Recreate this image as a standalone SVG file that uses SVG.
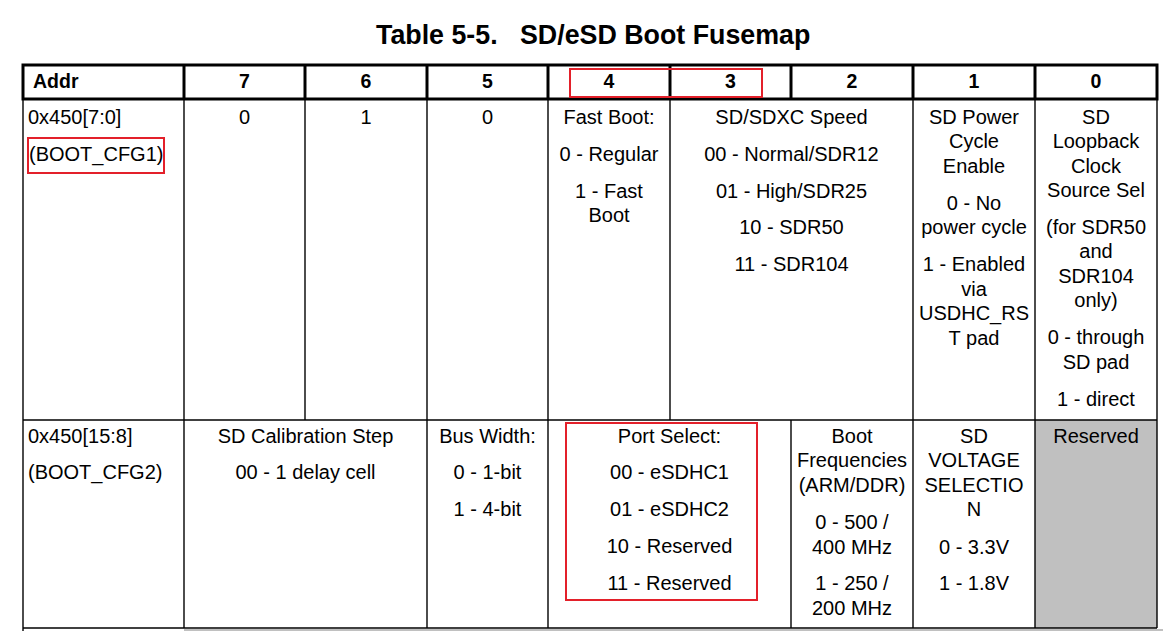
<svg xmlns="http://www.w3.org/2000/svg" width="1163" height="631" viewBox="0 0 1163 631">
<style>
.t{font-family:"Liberation Sans",Arial,sans-serif;font-size:20px;fill:#000}
.c{text-anchor:middle}
.h{font-family:"Liberation Sans",Arial,sans-serif;font-size:19.5px;font-weight:bold;fill:#000}
.title{font-family:"Liberation Sans",Arial,sans-serif;font-size:26.8px;font-weight:bold;fill:#000}
.thin{stroke:#000;stroke-width:1.4;fill:none}
.thick{stroke:#000;stroke-width:3;fill:none}
.red{stroke:#e3202a;stroke-width:2;fill:none}
</style>
<rect width="1163" height="631" fill="#fff"/>
<g id="title">
<text class="title" x="376" y="44">Table 5-5.</text>
<text class="title" x="520" y="44">SD/eSD Boot Fusemap</text>
</g>
<g id="fills">
<rect x="1035" y="420" width="122" height="208" fill="#c0c0c0"/>
<rect x="184" y="629" width="979" height="2" fill="#c0c0c0"/>
</g>
<g id="grid">
<line class="thin" x1="23" y1="99" x2="23" y2="631"/>
<line class="thin" x1="1157" y1="99" x2="1157" y2="628"/>
<line class="thin" x1="23" y1="420" x2="1157" y2="420"/>
<line class="thin" x1="23" y1="628" x2="1157" y2="628"/>
<line class="thin" x1="184" y1="99" x2="184" y2="628"/>
<line class="thin" x1="305" y1="99" x2="305" y2="420"/>
<line class="thin" x1="427" y1="99" x2="427" y2="628"/>
<line class="thin" x1="548" y1="99" x2="548" y2="628"/>
<line class="thin" x1="670" y1="99" x2="670" y2="420"/>
<line class="thin" x1="791" y1="420" x2="791" y2="628"/>
<line class="thin" x1="913" y1="99" x2="913" y2="628"/>
<line class="thin" x1="1035" y1="99" x2="1035" y2="628"/>
</g>
<g id="header">
<rect class="thick" x="23" y="65" width="1134" height="34"/>
<line class="thick" x1="184" y1="65" x2="184" y2="99"/>
<line class="thick" x1="305" y1="65" x2="305" y2="99"/>
<line class="thick" x1="427" y1="65" x2="427" y2="99"/>
<line class="thick" x1="548" y1="65" x2="548" y2="99"/>
<line class="thick" x1="670" y1="65" x2="670" y2="99"/>
<line class="thick" x1="791" y1="65" x2="791" y2="99"/>
<line class="thick" x1="913" y1="65" x2="913" y2="99"/>
<line class="thick" x1="1035" y1="65" x2="1035" y2="99"/>
<text class="h" x="33" y="88">Addr</text>
<text class="h c" x="244.5" y="88">7</text>
<text class="h c" x="366" y="88">6</text>
<text class="h c" x="487.5" y="88">5</text>
<text class="h c" x="609" y="88">4</text>
<text class="h c" x="730.5" y="88">3</text>
<text class="h c" x="852" y="88">2</text>
<text class="h c" x="974" y="88">1</text>
<text class="h c" x="1096" y="88">0</text>
</g>
<g id="row1-addr">
<text class="t" x="28" y="124">0x450[7:0]</text>
<text class="t" x="29" y="161">(BOOT_CFG1)</text>
</g>
<g id="row1-bit7"><text class="t c" x="244.5" y="124">0</text></g>
<g id="row1-bit6"><text class="t c" x="366" y="124">1</text></g>
<g id="row1-bit5"><text class="t c" x="487.5" y="124">0</text></g>
<g id="row1-bit4">
<text class="t c" x="609" y="124">Fast Boot:</text>
<text class="t c" x="609" y="161">0 - Regular</text>
<text class="t c" x="609" y="198">1 - Fast</text>
<text class="t c" x="609" y="222">Boot</text>
</g>
<g id="row1-bit3-2">
<text class="t c" x="791.5" y="124">SD/SDXC Speed</text>
<text class="t c" x="791.5" y="161">00 - Normal/SDR12</text>
<text class="t c" x="791.5" y="198">01 - High/SDR25</text>
<text class="t c" x="791.5" y="234">10 - SDR50</text>
<text class="t c" x="791.5" y="271">11 - SDR104</text>
</g>
<g id="row1-bit1">
<text class="t c" x="974" y="124">SD Power</text>
<text class="t c" x="974" y="148">Cycle</text>
<text class="t c" x="974" y="173">Enable</text>
<text class="t c" x="974" y="210">0 - No</text>
<text class="t c" x="974" y="234">power cycle</text>
<text class="t c" x="974" y="271">1 - Enabled</text>
<text class="t c" x="974" y="296">via</text>
<text class="t c" x="974" y="320">USDHC_RS</text>
<text class="t c" x="974" y="345">T pad</text>
</g>
<g id="row1-bit0">
<text class="t c" x="1096" y="124">SD</text>
<text class="t c" x="1096" y="148">Loopback</text>
<text class="t c" x="1096" y="173">Clock</text>
<text class="t c" x="1096" y="197">Source Sel</text>
<text class="t c" x="1096" y="234">(for SDR50</text>
<text class="t c" x="1096" y="258">and</text>
<text class="t c" x="1096" y="283">SDR104</text>
<text class="t c" x="1096" y="307">only)</text>
<text class="t c" x="1096" y="344">0 - through</text>
<text class="t c" x="1096" y="369">SD pad</text>
<text class="t c" x="1096" y="406">1 - direct</text>
</g>
<g id="row2-addr">
<text class="t" x="28" y="443">0x450[15:8]</text>
<text class="t" x="28" y="479">(BOOT_CFG2)</text>
</g>
<g id="row2-bit7-6">
<text class="t c" x="305.5" y="443">SD Calibration Step</text>
<text class="t c" x="305.5" y="479">00 - 1 delay cell</text>
</g>
<g id="row2-bit5">
<text class="t c" x="487.5" y="443">Bus Width:</text>
<text class="t c" x="487.5" y="479">0 - 1-bit</text>
<text class="t c" x="487.5" y="516">1 - 4-bit</text>
</g>
<g id="row2-bit4-3">
<text class="t c" x="669.5" y="443">Port Select:</text>
<text class="t c" x="669.5" y="479">00 - eSDHC1</text>
<text class="t c" x="669.5" y="516">01 - eSDHC2</text>
<text class="t c" x="669.5" y="553">10 - Reserved</text>
<text class="t c" x="669.5" y="590">11 - Reserved</text>
</g>
<g id="row2-bit2">
<text class="t c" x="852" y="443">Boot</text>
<text class="t c" x="852" y="467">Frequencies</text>
<text class="t c" x="852" y="492">(ARM/DDR)</text>
<text class="t c" x="852" y="529">0 - 500 /</text>
<text class="t c" x="852" y="554">400 MHz</text>
<text class="t c" x="852" y="590">1 - 250 /</text>
<text class="t c" x="852" y="615">200 MHz</text>
</g>
<g id="row2-bit1">
<text class="t c" x="974" y="443">SD</text>
<text class="t c" x="974" y="467">VOLTAGE</text>
<text class="t c" x="974" y="492">SELECTIO</text>
<text class="t c" x="974" y="516">N</text>
<text class="t c" x="974" y="554">0 - 3.3V</text>
<text class="t c" x="974" y="590">1 - 1.8V</text>
</g>
<g id="row2-bit0">
<text class="t c" x="1096" y="443">Reserved</text>
</g>
<g id="highlights">
<rect class="red" x="28" y="138" width="136" height="35"/>
<rect class="red" x="570" y="69" width="192" height="28"/>
<rect class="red" x="566" y="423" width="191" height="177"/>
</g>
</svg>
